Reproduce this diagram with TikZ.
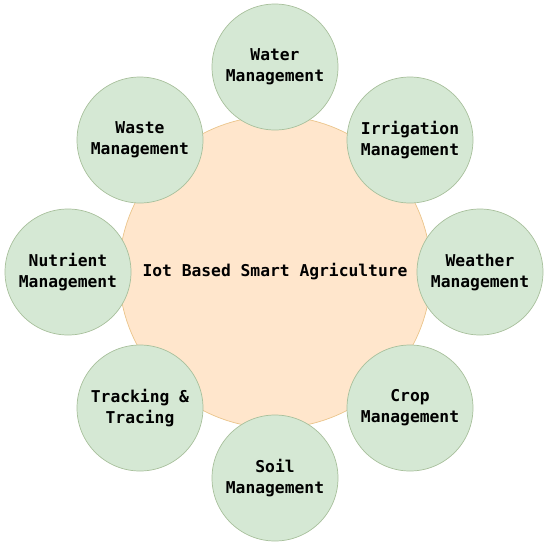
\documentclass[tikz,border=0pt]{standalone}
\usepackage{fontspec}
\setmonofont{DejaVu Sans Mono}
\usepackage{tikz}
\definecolor{petalfill}{RGB}{213,232,212}
\definecolor{petaldraw}{RGB}{168,192,156}
\definecolor{corefill}{RGB}{255,230,204}
\definecolor{coredraw}{RGB}{234,196,138}
\tikzset{
  petal/.style={circle, draw=petaldraw, fill=petalfill, minimum size=126pt,
    inner sep=0pt, align=center, font=\ttfamily\bfseries\fontsize{16.3}{21}\selectfont,
    line width=0.7pt},
  core/.style={circle, draw=coredraw, fill=corefill, minimum size=312pt,
    inner sep=0pt, align=center, font=\ttfamily\bfseries\fontsize{16.3}{21}\selectfont,
    line width=0.7pt}
}
\begin{document}
\begin{tikzpicture}[x=1pt, y=-1pt]
    \useasboundingbox (0,0) rectangle (551,547);
    \node[core] (core) at (275,272) {Iot Based Smart Agriculture};
    \node[petal] (water) at (275,67) {Water\\Management};
    \node[petal] (irrigation) at (410,140) {Irrigation\\Management};
    \node[petal] (weather) at (480,272) {Weather\\Management};
    \node[petal] (crop) at (410,408) {Crop\\Management};
    \node[petal] (soil) at (275,478) {Soil\\Management};
    \node[petal] (tracking) at (140,408) {Tracking \&\\Tracing};
    \node[petal] (nutrient) at (68,272) {Nutrient\\Management};
    \node[petal] (waste) at (140,140) {Waste\\Management};
\end{tikzpicture}
\end{document}
